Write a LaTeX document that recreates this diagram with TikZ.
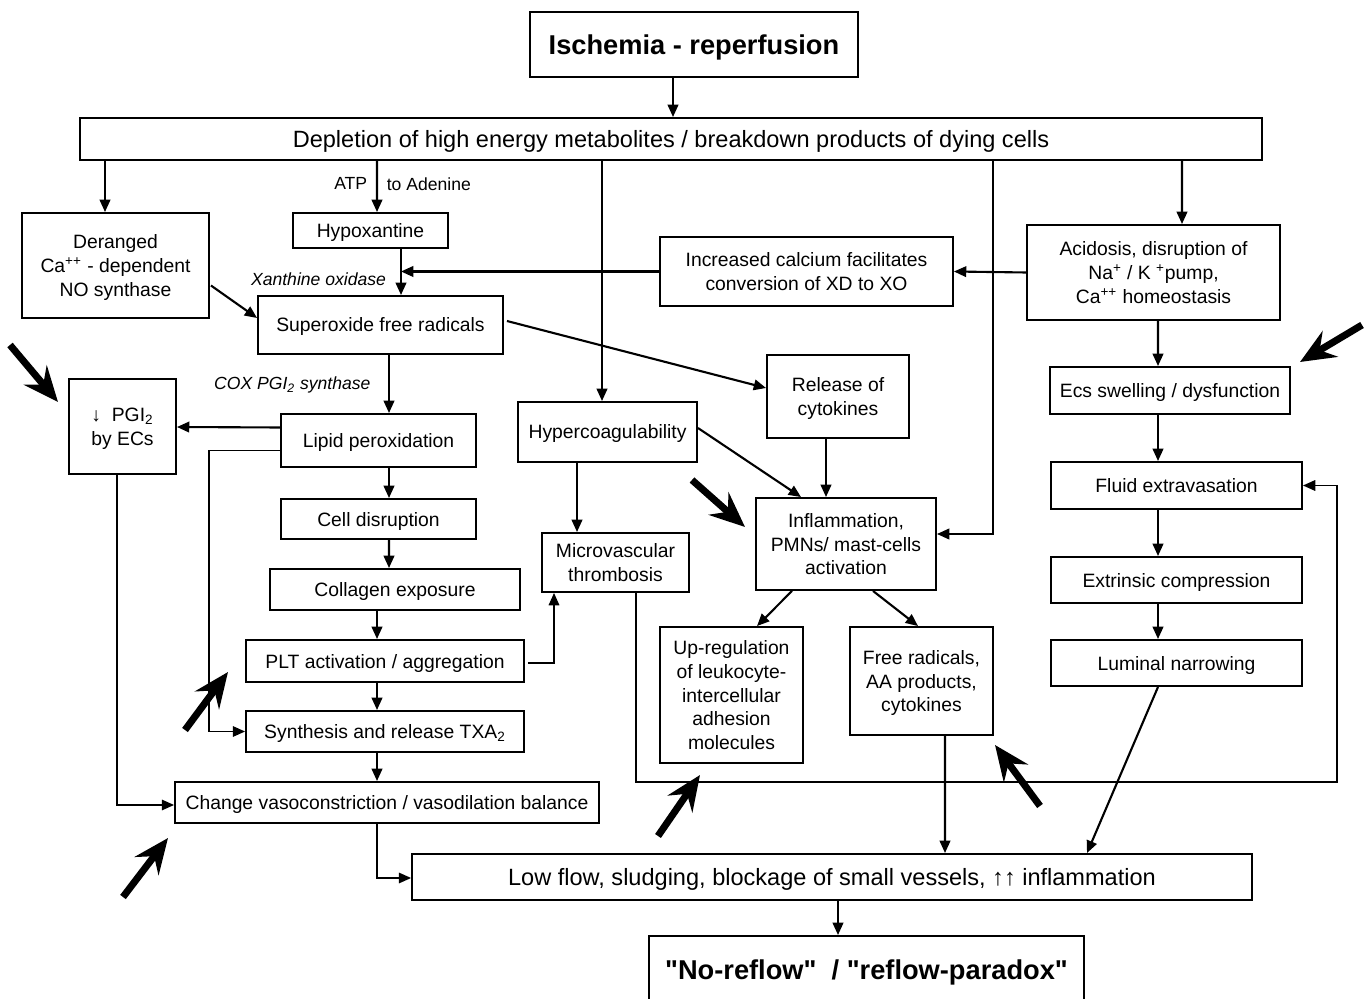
\documentclass[tikz,border=0pt]{standalone}
\usepackage{fontspec}
\setmainfont{Liberation Sans}[Ligatures=TeXOff]
\usetikzlibrary{arrows.meta,calc}

\tikzset{
  box/.style={draw, line width=1.1pt, align=center, inner sep=2pt, text depth=0pt, font=\fontsize{11}{13.5}\selectfont},
  arr/.style={-{Triangle[length=7pt,width=6pt]}, line width=1.2pt},
  thinarr/.style={arr, line width=0.9pt},
  lab/.style={font=\fontsize{10}{12}\selectfont, inner sep=1pt},
  pointer/.style={-{Stealth[length=20pt,width=17pt,inset=7pt]}, line width=4pt},
}

\begin{document}
\begin{tikzpicture}[x=0.02cm, y=-0.02cm]
	\useasboundingbox (0,0) rectangle (1369,999);

	% top of the cascade
	\node[box, font=\fontsize{15.5}{18}\selectfont\bfseries, minimum width=6.56cm, minimum height=1.30cm] (title) at (694,44.5) {Ischemia - reperfusion};
	\node[box, font=\fontsize{13.4}{16}\selectfont, minimum width=23.64cm, minimum height=0.84cm] (depl) at (671,139) {Depletion of high energy metabolites / breakdown products of dying cells};

	% left column
	\node[box, minimum width=3.74cm, minimum height=2.10cm] (deranged) at (115.5,265.5) {Deranged\\Ca\textsuperscript{++} - dependent\\NO synthase};
	\node[box, minimum width=3.10cm, minimum height=0.70cm] (hypox) at (370.5,230.5) {Hypoxantine};
	\node[box, minimum width=4.90cm, minimum height=1.16cm] (super) at (380.5,325) {Superoxide free radicals};
	\node[box, minimum width=2.14cm, minimum height=1.90cm] (pgi) at (122.5,426.5) {↓\ \ PGI\textsubscript{2}\\by ECs};
	\node[box, minimum width=3.90cm, minimum height=1.06cm] (lipid) at (378.5,440.5) {Lipid peroxidation};
	\node[box, minimum width=3.90cm, minimum height=0.80cm] (celld) at (378.5,519) {Cell disruption};
	\node[box, minimum width=5.00cm, minimum height=0.82cm] (collag) at (395,589.5) {Collagen exposure};
	\node[box, minimum width=5.56cm, minimum height=0.84cm] (plt) at (385,661) {PLT activation / aggregation};
	\node[box, minimum width=5.56cm, minimum height=0.82cm] (txa) at (385,731.5) {Synthesis and release TXA\textsubscript{2}};
	\node[box, minimum width=8.48cm, minimum height=0.82cm] (change) at (387,802.5) {Change vasoconstriction / vasodilation balance};

	% middle column
	\node[box, minimum width=5.86cm, minimum height=1.38cm] (calcium) at (806.5,271.5) {Increased calcium facilitates\\conversion of XD to XO};
	\node[box, minimum width=2.84cm, minimum height=1.66cm] (cytok) at (838,396.5) {Release of\\cytokines};
	\node[box, minimum width=3.58cm, minimum height=1.20cm] (hyper) at (607.5,432) {Hypercoagulability};
	\node[box, minimum width=2.94cm, minimum height=1.18cm] (micro) at (615.5,562.5) {Microvascular\\thrombosis};
	\node[box, minimum width=3.60cm, minimum height=1.84cm] (inflam) at (846,544) {Inflammation,\\PMNs/ mast-cells\\activation};
	\node[box, minimum width=2.86cm, minimum height=2.72cm] (upreg) at (731.5,695) {Up-regulation\\of leukocyte-\\intercellular\\adhesion\\molecules};
	\node[box, minimum width=2.86cm, minimum height=2.16cm] (freerad) at (921.5,681) {Free radicals,\\AA products,\\cytokines};

	% right column
	\node[box, minimum width=5.06cm, minimum height=1.90cm] (acid) at (1153.5,272.5) {Acidosis, disruption of\\Na\textsuperscript{+} / K \textsuperscript{+}pump,\\Ca\textsuperscript{++} homeostasis};
	\node[box, minimum width=4.80cm, minimum height=0.94cm] (ecs) at (1170,390.5) {Ecs swelling / dysfunction};
	\node[box, minimum width=5.02cm, minimum height=0.94cm] (fluid) at (1176.5,485.5) {Fluid extravasation};
	\node[box, minimum width=5.02cm, minimum height=0.92cm] (extr) at (1176.5,580) {Extrinsic compression};
	\node[box, minimum width=5.02cm, minimum height=0.92cm] (lumin) at (1176.5,663) {Luminal narrowing};

	% bottom
	\node[box, font=\fontsize{13.4}{16}\selectfont, minimum width=16.80cm, minimum height=0.92cm] (lowflow) at (832,877) {Low flow, sludging, blockage of small vessels, ↑↑ inflammation};
	\node[box, font=\fontsize{15.5}{18}\selectfont\bfseries, minimum width=8.70cm, minimum height=1.36cm] (noreflow) at (866.5,970) {"No-reflow"\ \ / "reflow-paradox"};

	% connectors
	\draw[arr] ($(title.south)+(-21,0)$) -- ($(depl.north)+(2,0)$);
	\draw[arr] ($(depl.south)+(-566,0)$) -- ($(deranged.north)+(-10.5,0)$);
	\draw[arr] ($(depl.south)+(-294,0)$) -- ($(hypox.north)+(6.5,0)$)
		node[lab, pos=0.45, left=4pt] {ATP} node[lab, pos=0.45, right=4pt] {to Adenine};
	\draw[arr] ($(hypox.south)+(30.5,0)$) -- ($(super.north)+(20.5,0)$)
		node[lab, pos=0.65, left=7pt] {\itshape Xanthine oxidase};
	\coordinate (xo) at ($(super.north)+(20.5,0)$);
	\draw[arr] (calcium.west) -- (calcium.west -| xo);
	\draw[arr] (acid.west) -- (calcium.east);
	\draw[arr] ($(deranged.east)+(1,20)$) -- ($(super.west)+(0,-7)$);
	\draw[arr] ($(depl.south)+(-69,0)$) -- ($(hyper.north)+(-5.5,0)$);
	\draw[arr] ($(depl.south)+(322,0)$) |- ($(inflam.east)+(0,-10)$);
	\draw[arr] ($(depl.south)+(511,0)$) -- ($(acid.north)+(28.5,0)$);
	\draw[arr] ($(super.east)+(3,-4)$) -- ($(cytok.west)+(0,-8.5)$);
	\draw[arr] ($(super.south)+(8.5,0)$) -- ($(lipid.north)+(10.5,0)$)
		node[lab, pos=0.52, left=9pt] {\itshape COX PGI\textsubscript{2} synthase};
	\draw[arr] ($(lipid.west)+(0,-13)$) -- ($(pgi.east)+(0,0.5)$);
	\draw[thinarr] ($(lipid.west)+(0,10)$) -| ($(txa.west)+(-36,0)$) -- (txa.west);
	\draw[arr] ($(lipid.south)+(10.5,0)$) -- ($(celld.north)+(10.5,0)$);
	\draw[arr] ($(celld.south)+(10.5,0)$) -- ($(collag.north)+(-6,0)$);
	\draw[arr] ($(collag.south)+(-18,0)$) -- ($(plt.north)+(-8,0)$);
	\draw[arr] ($(plt.south)+(-8,0)$) -- ($(txa.north)+(-8,0)$);
	\draw[arr] ($(txa.south)+(-8,0)$) -- ($(change.north)+(-10,0)$);
	\draw[thinarr] ($(pgi.south)+(-5.5,0)$) |- ($(change.west)+(0,2.5)$);
	\draw[thinarr] ($(plt.east)+(3,2)$) -| ($(micro.south)+(-61.5,0)$);
	\draw[thinarr] ($(change.south)+(-10,0)$) |- ($(lowflow.west)+(0,1)$);
	\draw[arr] ($(lowflow.south)+(6,0)$) -- ($(noreflow.north)+(-28.5,0)$);
	\draw[arr] ($(hyper.south)+(-30.5,0)$) -- ($(micro.north)+(-38.5,0)$);
	\draw[arr] ($(hyper.east)+(0,-4)$) -- ($(inflam.north)+(-45,0)$);
	\draw[thinarr] ($(micro.south)+(20.5,0)$) |- ($(fluid.east)+(34,296.5)$) |- (fluid.east);
	\draw[arr] ($(cytok.south)+(-12,0)$) -- ($(inflam.north)+(-20,0)$);
	\draw[arr] ($(inflam.south)+(-54,0)$) -- ($(upreg.north)+(25.5,0)$);
	\draw[arr] ($(inflam.south)+(27,0)$) -- ($(freerad.north)+(-3.5,0)$);
	\draw[arr] ($(freerad.south)+(23.5,0)$) -- ($(lowflow.north)+(113,0)$);
	\draw[arr] ($(acid.south)+(4.5,0)$) -- ($(ecs.north)+(-12,0)$);
	\draw[arr] ($(ecs.south)+(-12,0)$) -- ($(fluid.north)+(-18.5,0)$);
	\draw[arr] ($(fluid.south)+(-18.5,0)$) -- ($(extr.north)+(-18.5,0)$);
	\draw[arr] ($(extr.south)+(-18.5,0)$) -- ($(lumin.north)+(-18.5,0)$);
	\draw[arr] ($(lumin.south)+(-18.5,0)$) -- ($(lowflow.north)+(255,0)$);

	% big pointing arrows
	\foreach \xa/\ya/\xb/\yb in {10/345/58/402, 1362/325/1300/362, 692/480/745/527, 185/730/228/672, 658/836/700/775, 1040/806/995/745, 123/897/168/838}
		\draw[pointer] (\xa,\ya) -- (\xb,\yb);
\end{tikzpicture}
\end{document}
